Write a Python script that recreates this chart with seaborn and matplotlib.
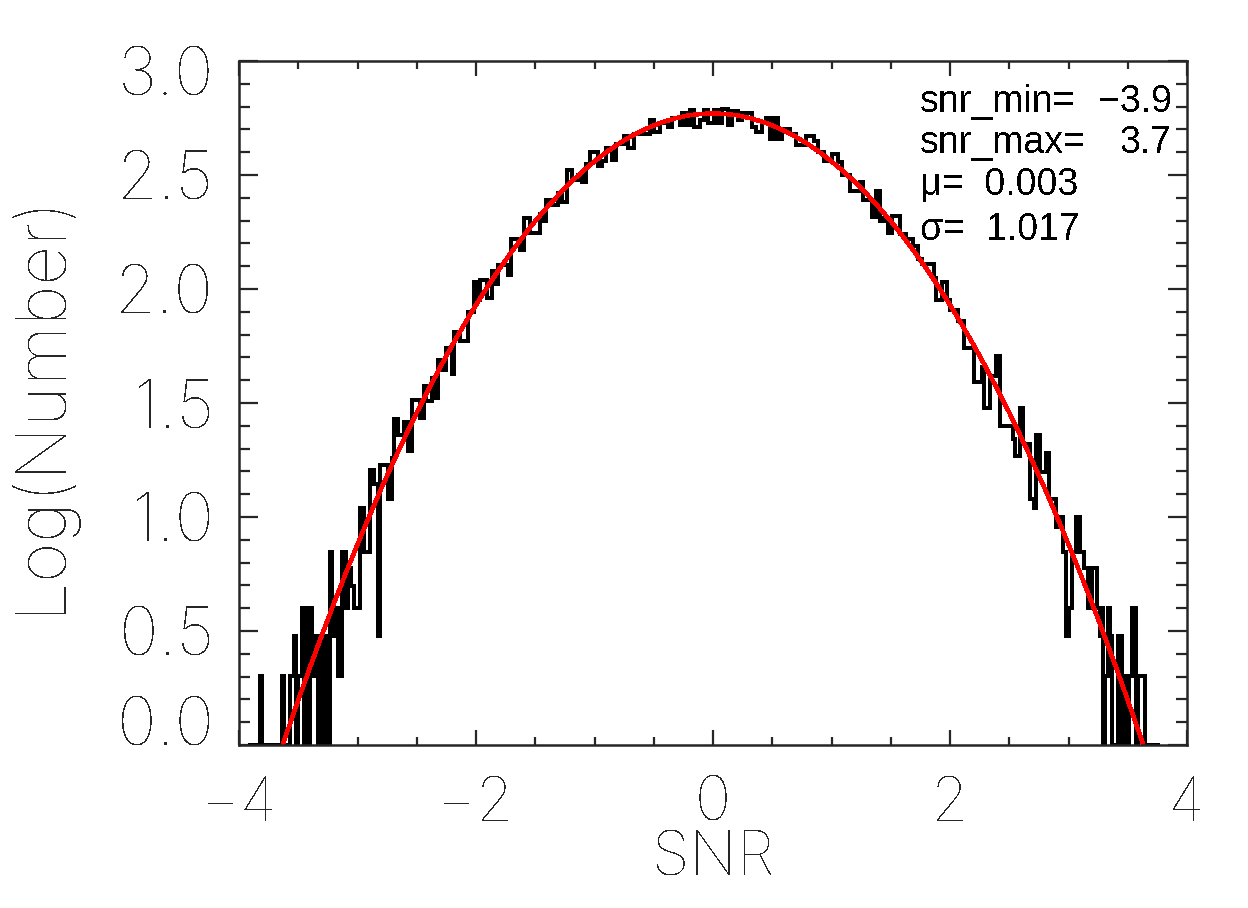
import numpy as np
import pandas as pd
import seaborn as sns
import matplotlib.pyplot as plt
from matplotlib.ticker import MultipleLocator
from matplotlib.transforms import ScaledTranslation

# histogram of SNR: left edge of each step and its level
hist_snr = [-3.907, -3.823, -3.806, -3.637, -3.620, -3.570, -3.536, -3.519, -3.502, -3.468,
            -3.451, -3.435, -3.418, -3.401, -3.384, -3.367, -3.333, -3.316, -3.300, -3.283,
            -3.266, -3.232, -3.215, -3.181, -3.165, -3.131, -3.097, -3.080, -3.055, -3.030,
            -2.979, -2.945, -2.895, -2.861, -2.827, -2.810, -2.743, -2.709, -2.692, -2.658,
            -2.608, -2.574, -2.540, -2.473, -2.439, -2.422, -2.371, -2.354, -2.321, -2.287,
            -2.253, -2.203, -2.186, -2.135, -2.068, -2.017, -1.983, -1.966, -1.907, -1.865,
            -1.840, -1.814, -1.730, -1.705, -1.629, -1.595, -1.544, -1.460, -1.426, -1.409,
            -1.367, -1.308, -1.274, -1.232, -1.190, -1.139, -1.105, -1.072, -1.038, -0.970,
            -0.937, -0.903, -0.852, -0.819, -0.751, -0.717, -0.667, -0.532, -0.498, -0.447,
            -0.380, -0.346, -0.278, -0.262, -0.228, -0.194, -0.160, -0.110, -0.076, -0.042,
            0.008, 0.042, 0.076, 0.127, 0.160, 0.211, 0.245, 0.329, 0.363, 0.414,
            0.447, 0.481, 0.515, 0.549, 0.582, 0.650, 0.700, 0.785, 0.852, 0.886,
            0.937, 1.004, 1.055, 1.089, 1.156, 1.240, 1.266, 1.342, 1.376, 1.409,
            1.443, 1.477, 1.511, 1.578, 1.629, 1.688, 1.730, 1.764, 1.865, 1.882,
            1.932, 1.975, 2.000, 2.068, 2.118, 2.203, 2.270, 2.287, 2.338, 2.388,
            2.422, 2.532, 2.549, 2.591, 2.616, 2.675, 2.709, 2.726, 2.759, 2.810,
            2.835, 2.895, 2.928, 2.954, 2.983, 3.004, 3.030, 3.063, 3.097, 3.131,
            3.165, 3.198, 3.241, 3.266, 3.283, 3.291, 3.308, 3.333, 3.350, 3.367,
            3.418, 3.451, 3.477, 3.494, 3.511, 3.536, 3.570, 3.586, 3.646, 3.755]
hist_log = [0, .301, 0, .301, 0, .301, .477, 0, .301, .602,
            0, .602, 0, .602, .301, .477, 0, .477, 0, .477,
            0, .845, .477, .602, .301, .845, .602, .778, .699, .602,
            1.041, .845, 1.204, 1.146, .477, 1.23, 1.079, 1.26, 1.431, 1.36,
            1.417, 1.29, 1.513, 1.434, 1.575, 1.51, 1.61, 1.52, 1.689, 1.645,
            1.741, 1.627, 1.81, 1.77, 1.90, 2.03, 1.95, 2.04, 1.96, 2.08,
            2.02, 2.105, 2.06, 2.22, 2.17, 2.31, 2.245, 2.33, 2.30, 2.39,
            2.37, 2.42, 2.38, 2.52, 2.48, 2.50, 2.47, 2.55, 2.60, 2.54,
            2.56, 2.62, 2.565, 2.635, 2.67, 2.62, 2.68, 2.74, 2.69, 2.73,
            2.71, 2.75, 2.72, 2.77, 2.72, 2.785, 2.71, 2.74, 2.785, 2.73,
            2.785, 2.73, 2.79, 2.72, 2.78, 2.74, 2.77, 2.71, 2.69, 2.73,
            2.75, 2.66, 2.75, 2.66, 2.70, 2.68, 2.63, 2.67, 2.65, 2.60,
            2.56, 2.59, 2.555, 2.50, 2.43, 2.47, 2.39, 2.315, 2.43, 2.30,
            2.31, 2.245, 2.32, 2.24, 2.22, 2.19, 2.13, 2.11, 2.05, 1.95,
            2.03, 1.95, 1.91, 1.86, 1.74, 1.59, 1.66, 1.48, 1.62, 1.706,
            1.40, 1.34, 1.267, 1.48, 1.32, 1.079, 1.04, 1.36, 1.197, 1.28,
            1.079, .954, 1.0, .845, .477, .602, .845, 1.0, .845, .778,
            .602, .778, .602, .477, .602, 0, .301, .602, .477, 0,
            .477, 0, .301, 0, .301, .602, 0, .301, 0, 0]

# fitted curve
fit_snr = [-3.63, -3.6, -3.5, -3.4, -3.3, -3.2, -3.1, -3.0, -2.9, -2.8, -2.7, -2.6, -2.5, -2.4, -2.3,
           -2.2, -2.1, -2.0, -1.9, -1.8, -1.7, -1.6, -1.5, -1.4, -1.3, -1.2, -1.1, -1.0, -0.9, -0.8,
           -0.7, -0.6, -0.5, -0.4, -0.3, -0.2, -0.1, 0.0, 0.1, 0.2, 0.3, 0.4, 0.5, 0.6, 0.7,
           0.8, 0.9, 1.0, 1.1, 1.2, 1.3, 1.4, 1.5, 1.6, 1.7, 1.8, 1.9, 2.0, 2.1, 2.2,
           2.3, 2.4, 2.5, 2.6, 2.7, 2.8, 2.9, 3.0, 3.1, 3.2, 3.3, 3.4, 3.5, 3.6, 3.63]
fit_log = [0, .048, .197, .342, .483, .62, .752, .88, 1.004, 1.124, 1.239, 1.35, 1.458, 1.56, 1.659,
           1.754, 1.844, 1.93, 2.012, 2.09, 2.163, 2.232, 2.298, 2.358, 2.415, 2.468, 2.516, 2.56, 2.60, 2.636,
           2.667, 2.694, 2.718, 2.736, 2.751, 2.762, 2.768, 2.77, 2.768, 2.762, 2.751, 2.736, 2.718, 2.694, 2.667,
           2.636, 2.60, 2.56, 2.516, 2.468, 2.415, 2.358, 2.298, 2.232, 2.163, 2.09, 2.012, 1.93, 1.844, 1.754,
           1.659, 1.56, 1.458, 1.35, 1.239, 1.124, 1.004, .88, .752, .62, .483, .342, .197, .048, 0]

x_ticks = [-4, -2, 0, 2, 4]
y_ticks = [0.0, 0.5, 1.0, 1.5, 2.0, 2.5, 3.0]

sns.set_style('ticks')
plt.rcParams['font.family'] = ['Inter', 'DejaVu Sans']
plt.rcParams['font.weight'] = 100
plt.rcParams['lines.antialiased'] = False
plt.rcParams['text.antialiased'] = False
plt.rcParams['lines.solid_joinstyle'] = 'miter'

hist_df = pd.DataFrame({'snr': hist_snr, 'log_n': hist_log})
fit_df = pd.DataFrame({'snr': fit_snr, 'log_n': fit_log})

fig = plt.figure(figsize=(12.48, 9.08), dpi=100)
ax = fig.add_axes([239 / 1248, 1 - 745 / 908, 948 / 1248, 684 / 908])

sns.lineplot(data=hist_df, x='snr', y='log_n', ax=ax, color='black', linewidth=2.6,
             drawstyle='steps-post', estimator=None, sort=False, errorbar=None)
sns.lineplot(data=fit_df, x='snr', y='log_n', ax=ax, color='#ff0000', linewidth=2.5,
             estimator=None, sort=False, errorbar=None)

ax.set_xlim(-4, 4)
ax.set_ylim(0, 3)
ax.set_xticks(x_ticks)
ax.set_yticks(y_ticks)
ax.set_xticklabels(['\u2212' + str(abs(t)) if t < 0 else str(t) for t in x_ticks])
ax.set_yticklabels(['%.1f' % t for t in y_ticks])
ax.xaxis.set_minor_locator(MultipleLocator(0.5))
ax.yaxis.set_minor_locator(MultipleLocator(0.1))
ax.tick_params(axis='x', which='major', direction='in', top=True, bottom=True, length=11, width=1.6, pad=22)
ax.tick_params(axis='x', which='minor', direction='in', top=True, bottom=True, length=5.5, width=1.6)
ax.tick_params(axis='y', which='major', direction='in', left=True, right=True, length=14, width=1.6, pad=18)
ax.tick_params(axis='y', which='minor', direction='in', left=True, right=True, length=8, width=1.6)
for s in ax.spines.values():
    s.set_visible(True)
    s.set_linewidth(1.8)

for lab in ax.get_xticklabels():
    lab.set_fontsize(44)
for lab in ax.get_yticklabels():
    lab.set_fontsize(48)
ylabs = ax.get_yticklabels()
ylabs[0].set_va('baseline')
ylabs[-1].set_va('baseline')
ylabs[-1].set_transform(ylabs[-1].get_transform() + ScaledTranslation(0, -0.34, fig.dpi_scale_trans))

ax.set_xlabel('SNR', fontsize=44, va='center', weight=100)
ax.set_ylabel('Log(Number)', fontsize=50, va='center', weight=100)
ax.xaxis.set_label_coords(0.5, -0.168)
ax.yaxis.set_label_coords(-0.21, 0.5)

note = dict(fontsize=27, color='black', family=['Liberation Sans', 'DejaVu Sans'], weight=400)
ax.text(1.747, 2.776, 'snr_min=', **note)
ax.text(3.873, 2.776, '\u22123.9', ha='right', **note)
ax.text(1.747, 2.596, 'snr_max=', **note)
ax.text(3.873, 2.596, '3.7', ha='right', **note)
ax.text(1.747, 2.412, '\u03bc=  0.003', **note)
ax.text(1.747, 2.215, '\u03c3=  1.017', **note)

fig.savefig('out.png', dpi=100)
